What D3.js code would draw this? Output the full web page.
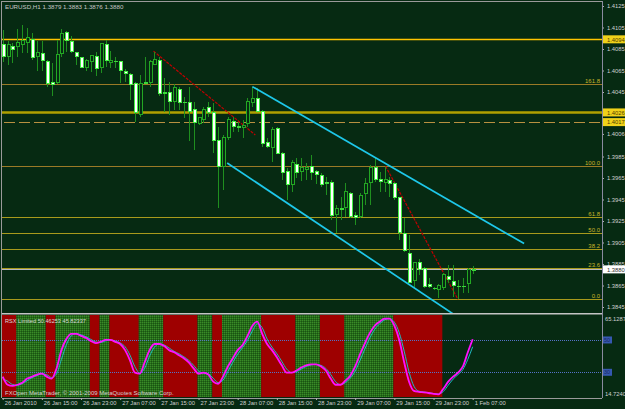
<!DOCTYPE html>
<html><head><meta charset="utf-8">
<script src="https://cdn.jsdelivr.net/npm/d3@7"></script>
<style>html,body{margin:0;padding:0;background:#fff;}svg{display:block;}</style>
</head><body>
<script>
// ---------- DATA ----------
const symbolTitle = "EURUSD,H1  1.3879 1.3883 1.3876 1.3880";
const opens = [1.4089,1.4078,1.4087,1.4087,1.4089,1.4091,1.4094,1.4078,1.4081,1.4073,
1.4054,1.4054,1.4081,1.4100,1.4092,1.4082,1.4077,1.4068,1.4073,1.4078,
1.4068,1.4089,1.4072,1.4074,1.4073,1.4064,1.4061,1.4053,1.4024,1.4053,
1.4054,1.4071,1.4074,1.4044,1.4045,1.4036,1.4047,1.4036,1.4035,1.4029,
1.4016,1.4019,1.4031,1.4026,1.4000,1.3976,1.4003,1.4018,1.4013,1.4012,
1.4016,1.4035,1.4039,1.4027,1.3998,1.3993,1.4011,1.3988,1.3971,1.3959,
1.3978,1.3971,1.3973,1.3976,1.3971,1.3967,1.3961,1.3961,1.3931,1.3937,
1.3938,1.3951,1.3930,1.3929,1.3951,1.3961,1.3975,1.3964,1.3961,1.3963,
1.3960,1.3947,1.3913,1.3895,1.3870,1.3886,1.3881,1.3866,1.3863,1.3861,
1.3863,1.3873,1.3869,1.3865,1.3864,1.3867,1.3879];
const highs = [1.4103,1.4092,1.4091,1.4104,1.4107,1.4105,1.4100,1.4092,1.4092,1.4075,
1.4072,1.4093,1.4104,1.4102,1.4097,1.4082,1.4078,1.4076,1.4079,1.4082,
1.4091,1.4093,1.4083,1.4078,1.4073,1.4066,1.4063,1.4054,1.4061,1.4078,
1.4075,1.4082,1.4078,1.4058,1.4054,1.4052,1.4050,1.4040,1.4050,1.4036,
1.4022,1.4031,1.4036,1.4035,1.4012,1.4005,1.4022,1.4022,1.4017,1.4019,
1.4039,1.4050,1.4049,1.4028,1.4002,1.4012,1.4012,1.3989,1.3974,1.3982,
1.3984,1.3984,1.3979,1.3986,1.3972,1.3970,1.3966,1.3963,1.3940,1.3947,
1.3960,1.3952,1.3933,1.3951,1.3965,1.3977,1.3985,1.3971,1.3975,1.3966,
1.3961,1.3947,1.3928,1.3912,1.3887,1.3890,1.3882,1.3872,1.3864,1.3866,
1.3877,1.3884,1.3884,1.3870,1.3872,1.3881,1.3883];
const lows = [1.4073,1.4070,1.4072,1.4078,1.4081,1.4081,1.4075,1.4065,1.4065,1.4050,
1.4041,1.4052,1.4078,1.4082,1.4081,1.4070,1.4067,1.4065,1.4064,1.4060,
1.4063,1.4068,1.4067,1.4067,1.4053,1.4054,1.4038,1.4017,1.4022,1.4053,
1.4050,1.4070,1.4041,1.4026,1.4024,1.4028,1.4028,1.4021,1.3999,1.3991,
1.4014,1.4016,1.4022,1.3988,1.3937,1.3954,1.4000,1.4008,1.4008,1.4002,
1.4012,1.4031,1.4026,1.3994,1.3993,1.3980,1.3987,1.3963,1.3945,1.3952,
1.3965,1.3962,1.3963,1.3963,1.3959,1.3957,1.3949,1.3926,1.3914,1.3926,
1.3929,1.3928,1.3921,1.3928,1.3940,1.3940,1.3961,1.3952,1.3952,1.3947,
1.3945,1.3907,1.3896,1.3867,1.3863,1.3875,1.3863,1.3863,1.3861,1.3853,
1.3861,1.3867,1.3854,1.3852,1.3858,1.3858,1.3876];
const closes = [1.4078,1.4089,1.4085,1.4091,1.4093,1.4096,1.4077,1.4082,1.4074,1.4053,
1.4052,1.4080,1.4099,1.4093,1.4083,1.4078,1.4068,1.4074,1.4079,1.4067,
1.4090,1.4074,1.4074,1.4073,1.4065,1.4062,1.4052,1.4026,1.4053,1.4054,
1.4073,1.4075,1.4044,1.4045,1.4036,1.4049,1.4035,1.4035,1.4027,1.4017,
1.4021,1.4029,1.4026,1.4000,1.3976,1.4003,1.4019,1.4013,1.4012,1.4014,
1.4036,1.4039,1.4027,1.3997,1.3994,1.4010,1.3988,1.3970,1.3959,1.3979,
1.3970,1.3975,1.3975,1.3970,1.3968,1.3959,1.3960,1.3930,1.3937,1.3936,
1.3952,1.3929,1.3928,1.3949,1.3960,1.3975,1.3964,1.3962,1.3964,1.3960,
1.3947,1.3914,1.3898,1.3868,1.3886,1.3880,1.3864,1.3864,1.3862,1.3865,
1.3875,1.3871,1.3865,1.3864,1.3865,1.3880,1.3880];

const rsx = [27.3,22.3,21.6,22.3,23.5,26.1,27.3,28.6,29.2,27.3,
26.1,32.4,43.7,50.6,53.8,53.8,52.5,51.3,49.4,48.1,
48.8,50.0,50.0,48.8,47.5,43.7,37.4,29.8,29.2,36.2,
43.7,47.5,47.5,46.2,43.7,42.4,40.6,38.7,36.2,32.4,
29.2,29.8,28.6,24.2,22.9,27.3,33.6,38.7,43.7,46.9,
52.5,58.8,61.3,53.8,47.5,43.7,39.3,34.3,29.8,29.8,
31.1,33.0,34.3,34.9,34.9,33.6,31.1,26.1,22.3,22.3,
24.8,27.9,33.6,41.2,48.1,54.4,58.8,61.3,63.2,63.2,
58.8,50.0,36.2,24.2,18.5,17.9,17.6,17.2,16.6,16.3,
19.8,24.2,27.3,29.8,33.6,42.4,50.46253];
const rsxSignal = [26.0,24.5,22.5,22.0,23.0,24.8,26.7,28.0,29.0,28.5,
26.8,29.0,38.0,47.0,52.5,54.0,53.2,52.0,50.4,48.8,
48.4,49.4,50.0,49.4,48.2,45.8,40.6,33.5,29.5,32.5,
40.0,45.6,47.5,46.9,45.0,43.0,41.5,39.6,37.4,34.3,
30.8,29.5,29.0,26.4,23.6,25.1,30.5,36.2,41.2,45.3,
49.7,55.6,60.0,57.6,50.6,45.6,41.5,36.8,32.0,29.8,
30.4,32.0,33.6,34.6,34.9,34.3,32.4,28.6,24.2,22.3,
23.6,26.4,30.8,37.4,44.6,51.3,56.6,60.0,62.4,63.2,
61.0,54.4,43.1,30.2,21.4,18.3,17.8,17.4,16.9,16.5,
18.1,22.0,25.8,28.6,31.7,38.0,45.82337];
const rsxTitle = "RSX Limited 50.46253 45.82337";
const rsxMax = 65.1287, rsxMin = 14.7240;
const rsxLevels = [50, 30];
// band segments: [startBar, endBar, direction]
const bandStarts = [0,3,9,11,18,20,22,28,33,40,43,45,53,60,65,70,80];
const bandEnds   = [3,9,11,18,20,22,28,33,40,43,45,53,60,65,70,80,90];
const bandDir    = ["dn","up","dn","up","dn","up","dn","up","dn","up","dn","up","dn","up","dn","up","dn"];

const timeTickBars = [0,8,16,24,32,40,48,56,64,72,80,88,96];
const timeLabels = ["26 Jan 2010","26 Jan 15:00","26 Jan 23:00","27 Jan 07:00","27 Jan 15:00","27 Jan 23:00",
  "28 Jan 07:00","28 Jan 15:00","28 Jan 23:00","29 Jan 07:00","29 Jan 15:00","29 Jan 23:00","1 Feb 07:00"];
const priceTicks = [1.4125,1.4105,1.4085,1.4065,1.4045,1.4006,1.3985,1.3965,1.3945,1.3925,1.3905,1.3885,1.3865,1.3845];
const priceMin = 1.3845, priceMax = 1.4125;

const hLinePrices = [1.4094, 1.4026, 1.4017];
const bidPrice = 1.3880;
const fibRatios = [0, 23.6, 38.2, 50.0, 61.8, 100.0, 161.8];
const fibLowPrice = 1.3852, fibHighPrice = 1.3976;
const channelUpper = [[51, 1.4050], [106.5, 1.3904]];
const channelLower = [[45.85, 1.3979], [93.5, 1.3834]];
const trendRed1 = [[30.8, 1.4083], [51.6, 1.4005]];
const trendRed2 = [[78.2, 1.3976], [93, 1.3852]];

// ---------- DRAW ----------
const W = 625, H = 409;
const BG = "#062a12";
const FONT = "'Liberation Sans', Arial, sans-serif";
const svg = d3.select("body").append("svg").attr("width", W).attr("height", H)
  .style("background", BG);

const mainTop = 2, mainBottom = 313, plotLeft = 2, plotRight = 602;
const indTop = 315, indBottom = 397;

const x = d3.scaleLinear().domain([0, 96]).range([2.7, 472.7]);
const y = d3.scaleLinear().domain([priceMin, priceMax]).range([307, 6]);
const iy = d3.scaleLinear().domain([rsxMin, rsxMax]).range([indBottom, indTop + 0.5]);

const defs = svg.append("defs");
defs.append("clipPath").attr("id", "clipMain").append("rect")
  .attr("x", plotLeft).attr("y", mainTop).attr("width", plotRight - plotLeft).attr("height", mainBottom - mainTop);
defs.append("clipPath").attr("id", "clipInd").append("rect")
  .attr("x", plotLeft).attr("y", indTop).attr("width", plotRight - plotLeft).attr("height", indBottom - indTop);
const pat = defs.append("pattern").attr("id", "greenDots").attr("width", 2).attr("height", 2)
  .attr("patternUnits", "userSpaceOnUse");
pat.append("rect").attr("width", 2).attr("height", 2).attr("fill", "#266c1a");
pat.append("rect").attr("width", 1).attr("height", 1).attr("fill", "#3a8a28");
pat.append("rect").attr("x", 1).attr("y", 1).attr("width", 1).attr("height", 1).attr("fill", "#1a5212");

// ---- main panel ----
const gMain = svg.append("g").attr("clip-path", "url(#clipMain)");

// fib levels
const fibPrice = r => fibLowPrice + r / 100 * (fibHighPrice - fibLowPrice);
fibRatios.forEach(r => {
  const yy = Math.round(y(fibPrice(r))) + 0.5;
  const col = (r === 161.8 || r === 100) ? "#9a7a26" : "#a89a1c";
  gMain.append("line").attr("x1", plotLeft).attr("x2", plotRight).attr("y1", yy).attr("y2", yy)
    .attr("stroke", col).attr("stroke-width", 1);
  gMain.append("text").attr("x", 600).attr("y", yy - 1.5).attr("text-anchor", "end")
    .attr("font-family", FONT).attr("font-size", 6).attr("fill", "#c8b42a").text(r.toFixed(1));
});

// horizontal lines
{
  const y0 = Math.round(y(hLinePrices[0])) + 0.5;
  gMain.append("line").attr("x1", plotLeft).attr("x2", plotRight).attr("y1", y0).attr("y2", y0)
    .attr("stroke", "#ffc400").attr("stroke-width", 1.3);
  const y1 = y(hLinePrices[1]);
  gMain.append("line").attr("x1", plotLeft).attr("x2", plotRight).attr("y1", y1).attr("y2", y1)
    .attr("stroke", "#b0a000").attr("stroke-width", 2.4);
  const y2 = Math.round(y(hLinePrices[2])) + 0.5;
  gMain.append("line").attr("x1", plotLeft + 2).attr("x2", plotRight).attr("y1", y2).attr("y2", y2)
    .attr("stroke", "#b89040").attr("stroke-width", 1).attr("stroke-dasharray", "11,4");
  const yb = Math.round(y(bidPrice)) + 0.5;
  gMain.append("line").attr("x1", plotLeft).attr("x2", plotRight).attr("y1", yb).attr("y2", yb)
    .attr("stroke", "#b8b8c0").attr("stroke-width", 1);
}

// red trend lines
[trendRed1, trendRed2].forEach(seg => {
  gMain.append("line").attr("x1", x(seg[0][0])).attr("y1", y(seg[0][1]))
    .attr("x2", x(seg[1][0])).attr("y2", y(seg[1][1]))
    .attr("stroke", "#c00000").attr("stroke-width", 1.2).attr("stroke-dasharray", "3,1.2");
});

// candles
const gC = gMain.append("g").attr("shape-rendering", "crispEdges");
const bars = d3.range(opens.length).map(i => ({i, o: opens[i], h: highs[i], l: lows[i], c: closes[i]}));
const isDoji = d => Math.abs(d.o - d.c) <= 0.00015;
gC.selectAll("line.wick").data(bars).join("line").attr("class", "wick")
  .attr("x1", d => Math.round(x(d.i)) + 0.5).attr("x2", d => Math.round(x(d.i)) + 0.5)
  .attr("y1", d => y(d.h)).attr("y2", d => y(d.l))
  .attr("stroke", "#1f8f1f").attr("stroke-width", 1);
gC.selectAll("rect.body").data(bars).join("rect").attr("class", "body")
  .attr("x", d => Math.round(x(d.i)) - 1)
  .attr("width", d => isDoji(d) ? 4 : 3)
  .attr("y", d => y(Math.max(d.o, d.c)))
  .attr("height", d => Math.max(1.5, Math.abs(y(d.o) - y(d.c))))
  .attr("fill", d => isDoji(d) ? "#3ad83a" : (d.c < d.o ? "#ffffff" : BG))
  .attr("stroke", d => isDoji(d) ? "none" : (d.c < d.o ? "#44f044" : "#23a823"))
  .attr("stroke-width", 1);

// channel lines
[channelUpper, channelLower].forEach(seg => {
  gMain.append("line").attr("x1", x(seg[0][0])).attr("y1", y(seg[0][1]))
    .attr("x2", x(seg[1][0])).attr("y2", y(seg[1][1]))
    .attr("stroke", "#1ec8ea").attr("stroke-width", 1.7);
});

// title
svg.append("text").attr("x", 5).attr("y", 8.5).attr("font-family", FONT).attr("font-size", 6.2)
  .attr("fill", "#c8c8c8").text(symbolTitle);

// ---- indicator panel ----
const gInd = svg.append("g").attr("clip-path", "url(#clipInd)");
bandStarts.forEach((s, k) => {
  const x0 = x(s) - 1, x1 = x(bandEnds[k]) - 1;
  gInd.append("rect").attr("x", Math.max(plotLeft, x0)).attr("y", indTop)
    .attr("width", x1 - Math.max(plotLeft, x0)).attr("height", indBottom - indTop)
    .attr("fill", bandDir[k] === "up" ? "url(#greenDots)" : "#9e0000");
});
rsxLevels.forEach(v => {
  const yy = Math.round(iy(v)) + 0.5;
  gInd.append("line").attr("x1", plotLeft).attr("x2", plotRight).attr("y1", yy).attr("y2", yy)
    .attr("stroke", "#5472c8").attr("stroke-width", 1).attr("stroke-dasharray", "1,1");
});
const lineGen = d3.line().x((d, i) => x(i)).y(d => iy(d)).curve(d3.curveMonotoneX);
gInd.append("path").datum(rsxSignal).attr("d", lineGen).attr("fill", "none")
  .attr("stroke", "#20b8c0").attr("stroke-width", 1);
gInd.append("path").datum(rsx).attr("d", lineGen).attr("fill", "none")
  .attr("stroke", "#ff10ff").attr("stroke-width", 1.8);
svg.append("text").attr("x", 5).attr("y", 323).attr("font-family", FONT).attr("font-size", 5.6)
  .attr("fill", "#d8d8d8").text(rsxTitle);
svg.append("text").attr("x", 5).attr("y", 395).attr("font-family", FONT).attr("font-size", 6)
  .attr("fill", "#d0d0d0").text("FXOpen MetaTrader, © 2001-2009 MetaQuotes Software Corp.");

// ---- frame lines ----
svg.append("line").attr("x1", plotLeft).attr("x2", plotRight).attr("y1", 313.8).attr("y2", 313.8)
  .attr("stroke", "#c4c4c4").attr("stroke-width", 1.6);
svg.append("line").attr("x1", plotLeft).attr("x2", plotRight).attr("y1", 1.5).attr("y2", 1.5)
  .attr("stroke", "#9a9a9a").attr("stroke-width", 1);
svg.append("line").attr("x1", 1.5).attr("x2", 1.5).attr("y1", 1).attr("y2", 398)
  .attr("stroke", "#9a9a9a").attr("stroke-width", 1);

// ---- right price axis ----
const axR = svg.append("g").attr("transform", `translate(${plotRight},0)`)
  .call(d3.axisRight(y).tickValues(priceTicks).tickSize(2).tickPadding(3).tickFormat(d3.format(".4f")));
axR.select(".domain").remove();
axR.selectAll("line").attr("stroke", "#b0b0b0");
axR.selectAll("text").attr("font-family", FONT).attr("font-size", 5.8).attr("fill", "#d0d0d0");
svg.append("line").attr("x1", plotRight + 0.5).attr("x2", plotRight + 0.5).attr("y1", 1).attr("y2", 398)
  .attr("stroke", "#8a8aa0").attr("stroke-width", 1);

// price label boxes
function priceBox(p, bg, fg) {
  const yy = y(p);
  svg.append("rect").attr("x", plotRight + 1).attr("y", yy - 4).attr("width", 22).attr("height", 8).attr("fill", bg);
  svg.append("text").attr("x", plotRight + 5).attr("y", yy + 2.2).attr("font-family", FONT)
    .attr("font-size", 5.8).attr("fill", fg).text(p.toFixed(4));
}
hLinePrices.forEach(p => priceBox(p, "#f0d21a", "#504000"));
priceBox(bidPrice, "#ffffff", "#303030");

// indicator axis labels
[[rsxMax, indTop + 6], [rsxMin, indBottom - 1.5]].forEach(([v, yy]) => {
  svg.append("text").attr("x", plotRight + 3).attr("y", yy).attr("font-family", FONT)
    .attr("font-size", 5.8).attr("fill", "#d0d0d0").text(v.toFixed(4));
});
rsxLevels.forEach(v => {
  const yy = iy(v);
  svg.append("rect").attr("x", plotRight + 1).attr("y", yy - 3.5).attr("width", 9).attr("height", 7).attr("fill", "#3658b0");
  svg.append("text").attr("x", plotRight + 2).attr("y", yy + 2).attr("font-family", FONT)
    .attr("font-size", 5.5).attr("fill", "#1a2a60").text(v);
});

// ---- bottom time axis ----
svg.append("line").attr("x1", plotLeft).attr("x2", plotRight).attr("y1", 398.5).attr("y2", 398.5)
  .attr("stroke", "#9a9a9a").attr("stroke-width", 1);
const axB = svg.append("g").attr("transform", "translate(0,398)")
  .call(d3.axisBottom(x).tickValues(timeTickBars).tickSize(2).tickPadding(1)
    .tickFormat((d, i) => timeLabels[i]));
axB.select(".domain").remove();
axB.selectAll("line").attr("stroke", "#b0b0b0");
axB.selectAll("text").attr("font-family", FONT).attr("font-size", 5.8).attr("fill", "#d0d0d0")
  .attr("text-anchor", "start").attr("dx", 1.5);
</script>
</body></html>
